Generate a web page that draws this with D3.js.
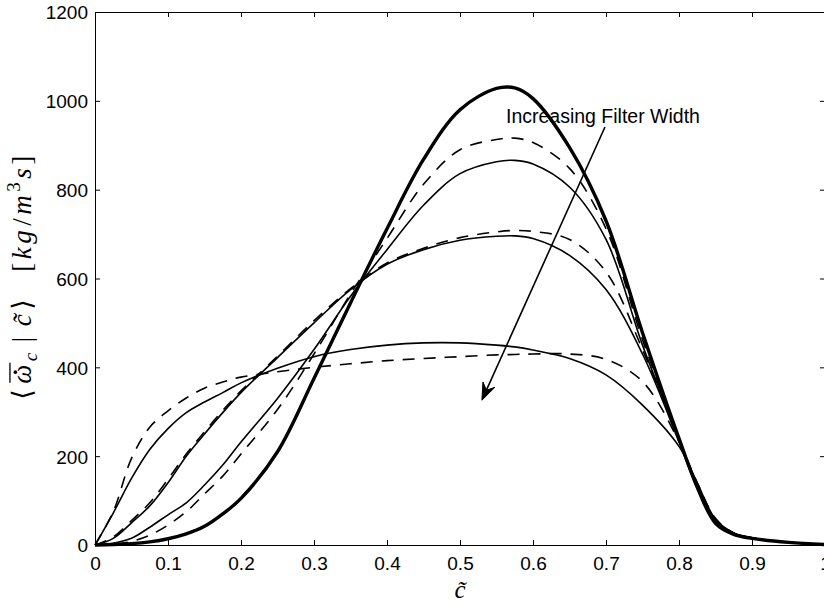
<!DOCTYPE html>
<html>
<head>
<meta charset="utf-8">
<script src="https://cdn.jsdelivr.net/npm/d3@7"></script>
<style>
  html, body { margin: 0; padding: 0; background: #fff; }
  svg { display: block; }
  .tick text { font-family: "Liberation Sans", Arial, Helvetica, sans-serif; font-size: 19px; fill: #000; }
  .math { font-family: "Liberation Serif", "DejaVu Serif", serif; }
</style>
</head>
<body>
<svg id="chart" width="824" height="612"></svg>
<script>
// Progress variable sample points (c-tilde)
const cTilde = [0, 0.025, 0.05, 0.075, 0.1, 0.125, 0.15, 0.175, 0.2, 0.25, 0.3, 0.35, 0.4, 0.45,
                0.5, 0.55, 0.575, 0.6, 0.65, 0.7, 0.75, 0.8, 0.825, 0.85, 0.875, 0.9, 0.95, 1.0];

// Unfiltered reaction rate (thick solid)
const dnsRate = [0, 1, 3, 7, 14, 25, 42, 70, 105, 210, 375, 545, 712, 868,
                 980, 1028, 1029, 1005, 895, 730, 478, 240, 130, 49, 24, 15, 6, 1];

// Filtered rates, smallest filter width: model (dashed) and exact (solid)
const dashed1 = [0, 2, 8, 22, 45, 75, 115, 155, 205, 305, 430, 565, 690, 812,
                 890, 913, 916, 906, 848, 712, 462, 242, 132, 55, 26, 16, 6, 1];
const solid1  = [0, 4, 15, 40, 68, 95, 135, 180, 232, 330, 440, 560, 665, 765,
                 836, 863, 866, 858, 806, 688, 450, 238, 130, 52, 25, 15, 6, 1];

// Middle filter width
const dashed2 = [0, 18, 55, 95, 148, 205, 255, 303, 347, 425, 505, 577, 635, 668,
                 692, 705, 708, 706, 688, 615, 440, 236, 130, 57, 27, 16, 6, 1];
const solid2  = [0, 15, 50, 88, 140, 200, 250, 298, 343, 422, 500, 575, 632, 665,
                 686, 695, 696, 690, 652, 575, 430, 232, 128, 55, 26, 16, 6, 1];

// Largest filter width
const dashed3 = [0, 75, 195, 265, 302, 331, 353, 367, 378, 390, 400, 408, 415, 420,
                 424, 428, 429, 430, 430, 418, 368, 233, 140, 60, 27, 16, 6, 1];
const solid3  = [0, 72, 150, 215, 262, 298, 322, 343, 365, 398, 424, 440, 450, 455,
                 455, 450, 446, 439, 420, 383, 315, 222, 140, 58, 27, 16, 6, 1];

const xTicks = [0, 0.1, 0.2, 0.3, 0.4, 0.5, 0.6, 0.7, 0.8, 0.9, 1];
const xTickLabels = ["0", "0.1", "0.2", "0.3", "0.4", "0.5", "0.6", "0.7", "0.8", "0.9", "1"];
const yTicks = [0, 200, 400, 600, 800, 1000, 1200];
const yTickLabels = ["0", "200", "400", "600", "800", "1000", "1200"];

// Annotation: text anchor and arrow from/to, in data units
const noteText = "Increasing Filter Width";
const notePos = [0.563, 950];
const arrowFrom = [0.6986, 941];
const arrowTo = [0.530, 326];

const svg = d3.select("#chart");
const plotLeft = 95, plotRight = 825, plotTop = 12, plotBottom = 545;

const x = d3.scaleLinear().domain([0, 1]).range([plotLeft, plotRight]);
const y = d3.scaleLinear().domain([0, 1200]).range([plotBottom, plotTop]);

// Axes box with inward ticks
const gx = svg.append("g").attr("transform", `translate(0,${plotBottom})`)
  .call(d3.axisBottom(x).tickValues(xTicks).tickFormat((d, i) => xTickLabels[i])
        .tickSizeInner(-5).tickSizeOuter(0).tickPadding(12));
const gy = svg.append("g").attr("transform", `translate(${plotLeft},0)`)
  .call(d3.axisLeft(y).tickValues(yTicks).tickFormat((d, i) => yTickLabels[i])
        .tickSizeInner(-5).tickSizeOuter(0).tickPadding(7));
const gt = svg.append("g").attr("transform", `translate(0,${plotTop})`)
  .call(d3.axisTop(x).tickValues(xTicks).tickFormat("").tickSizeInner(-5).tickSizeOuter(0));
const gr = svg.append("g").attr("transform", `translate(${plotRight},0)`)
  .call(d3.axisRight(y).tickValues(yTicks).tickFormat("").tickSizeInner(-5).tickSizeOuter(0));

[gx, gy, gt, gr].forEach(g => {
  g.select(".domain").attr("stroke", "#000").attr("stroke-width", 1);
  g.selectAll(".tick line").attr("stroke", "#000").attr("stroke-width", 1);
});
gx.selectAll(".tick text").attr("dy", "0.71em");
gy.selectAll(".tick text").attr("dy", "0.36em");

// Curves
const line = d3.line()
  .x(d => x(d[0]))
  .y(d => y(d[1]))
  .curve(d3.curveCatmullRom.alpha(0.5));

const series = [
  { values: solid3,  width: 1.6, dash: null },
  { values: dashed3, width: 1.6, dash: "12,9" },
  { values: solid2,  width: 1.6, dash: null },
  { values: dashed2, width: 1.6, dash: "12,9" },
  { values: solid1,  width: 1.6, dash: null },
  { values: dashed1, width: 1.6, dash: "12,9" },
  { values: dnsRate, width: 3.4, dash: null }
];

svg.append("g").selectAll("path")
  .data(series)
  .join("path")
  .attr("d", s => line(cTilde.map((c, i) => [c, s.values[i]])))
  .attr("fill", "none")
  .attr("stroke", "#000")
  .attr("stroke-width", s => s.width)
  .attr("stroke-dasharray", s => s.dash)
  .attr("stroke-linejoin", "round");

// Annotation text and arrow
svg.append("text")
  .attr("x", x(notePos[0])).attr("y", y(notePos[1]))
  .attr("font-family", "Liberation Sans, Arial, Helvetica, sans-serif")
  .attr("font-size", 19.5)
  .text(noteText);

const ax0 = x(arrowFrom[0]), ay0 = y(arrowFrom[1]);
const ax1 = x(arrowTo[0]), ay1 = y(arrowTo[1]);
const len = Math.hypot(ax1 - ax0, ay1 - ay0);
const ux = (ax1 - ax0) / len, uy = (ay1 - ay0) / len;
const nx = -uy, ny = ux;
const headLen = 17, headHalf = 6.5, notch = 11;
svg.append("line")
  .attr("x1", ax0).attr("y1", ay0)
  .attr("x2", ax1 - ux * notch).attr("y2", ay1 - uy * notch)
  .attr("stroke", "#000").attr("stroke-width", 1.6);
const bx = ax1 - ux * headLen, by = ay1 - uy * headLen;
svg.append("path")
  .attr("d", `M${ax1},${ay1} L${bx + nx * headHalf},${by + ny * headHalf} ` +
             `L${ax1 - ux * notch},${ay1 - uy * notch} L${bx - nx * headHalf},${by - ny * headHalf} Z`)
  .attr("fill", "#000").attr("stroke", "#000").attr("stroke-width", 1).attr("stroke-linejoin", "round");

// X axis label: c-tilde
svg.append("text")
  .attr("class", "math")
  .attr("x", (plotLeft + plotRight) / 2).attr("y", 598)
  .attr("text-anchor", "middle")
  .attr("font-size", 25)
  .attr("font-style", "italic")
  .text("c\u0303");

// Y axis label: conditional mean of filtered reaction rate with units
const fs = 27;
const ylg = svg.append("g").attr("transform", "translate(31,276) rotate(-90)");
const yl = ylg.append("text")
  .attr("class", "math")
  .attr("text-anchor", "middle")
  .attr("font-size", fs)
  .attr("letter-spacing", 3.5);
yl.append("tspan").attr("font-family", "DejaVu Serif, serif").text("\u27E8");
yl.append("tspan").attr("dx", 2).attr("font-style", "italic").text("\u03C9");
yl.append("tspan").attr("font-style", "italic").attr("font-size", 19).attr("dy", 6).text("c");
yl.append("tspan").attr("dx", 7).attr("dy", -6).text("|");
yl.append("tspan").attr("dx", 7).attr("font-style", "italic").text("c\u0303");
yl.append("tspan").attr("dx", 1).attr("font-family", "DejaVu Serif, serif").text("\u27E9");
yl.append("tspan").attr("dx", 24).text("[");
yl.append("tspan").attr("font-style", "italic").text("kg");
yl.append("tspan").attr("dx", 1).text("/");
yl.append("tspan").attr("font-style", "italic").text("m");
yl.append("tspan").attr("font-size", 19).attr("dy", -11).text("3");
yl.append("tspan").attr("font-style", "italic").attr("dy", 11).text("s");
yl.append("tspan").text("]");

// Dot and bar over omega (char index 1)
const om = yl.node().getExtentOfChar(1);
const omW = om.width - 3.5;
ylg.append("circle").attr("cx", om.x + omW / 2 + 2).attr("cy", -fs * 0.58).attr("r", 1.8).attr("fill", "#000");
ylg.append("line")
  .attr("x1", om.x + 1).attr("x2", om.x + omW + 2)
  .attr("y1", -fs * 0.78).attr("y2", -fs * 0.78)
  .attr("stroke", "#000").attr("stroke-width", 1.3);
</script>
</body>
</html>
